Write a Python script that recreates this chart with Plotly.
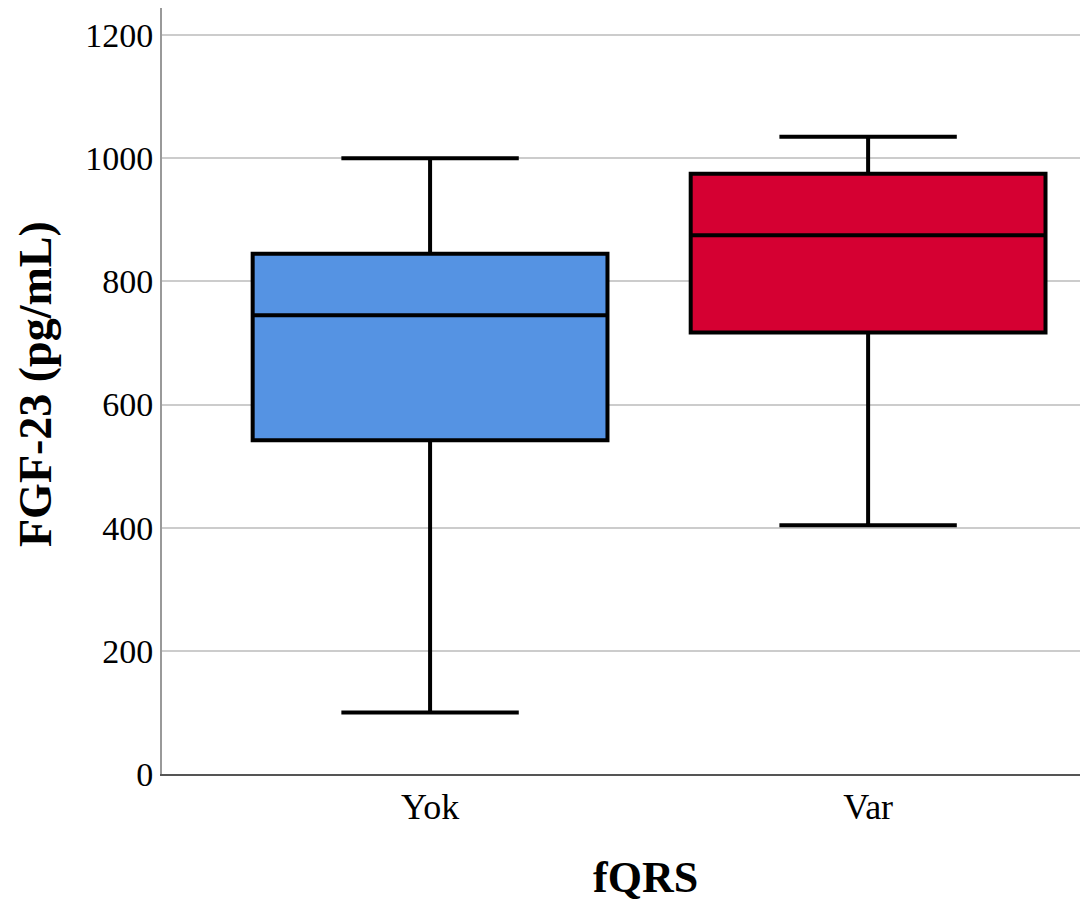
import plotly.graph_objects as go

categories = ["Yok", "Var"]
lower_whisker = [100, 404]
q1_values = [542, 717]
median_values = [745, 875]
q3_values = [845, 975]
upper_whisker = [1000, 1035]
box_colors = ["#5593E3", "#D50032"]

fig = go.Figure()
for i, cat in enumerate(categories):
    fig.add_trace(go.Box(
        x=[cat],
        lowerfence=[lower_whisker[i]],
        q1=[q1_values[i]],
        median=[median_values[i]],
        q3=[q3_values[i]],
        upperfence=[upper_whisker[i]],
        fillcolor=box_colors[i],
        line=dict(color="black", width=4),
        width=0.81,
        whiskerwidth=0.5,
        showlegend=False,
        hoverinfo="skip",
    ))

font_family = "Liberation Serif, Times New Roman, serif"
fig.update_layout(
    width=1080, height=905,
    margin=dict(l=154, r=0, t=0, b=139),
    paper_bgcolor="white", plot_bgcolor="white",
    boxmode="overlay",
    font=dict(family=font_family, color="black"),
    xaxis=dict(
        type="category",
        range=[-0.612, 1.502],
        showline=True, linecolor="#555555", linewidth=2,
        showgrid=False, ticks="",
        tickfont=dict(size=36, family=font_family, color="black"),
    ),
    yaxis=dict(
        range=[0, 1244],
        tickvals=[0, 200, 400, 600, 800, 1000, 1200],
        showline=True, linecolor="#999999", linewidth=2,
        showgrid=True, gridcolor="#CCCCCC", gridwidth=2,
        zeroline=False, ticks="", ticklen=0,
        tickfont=dict(size=34, family=font_family, color="black"),
    ),
    annotations=[
        dict(text="<b>FGF-23 (pg/mL)</b>", xref="paper", yref="paper",
             x=0, y=0.5, xshift=-127, yshift=7, xanchor="center", yanchor="middle",
             textangle=-90, showarrow=False, borderpad=0,
             font=dict(size=46, family=font_family, color="black")),
        dict(text="<b>fQRS</b>", xref="paper", yref="paper",
             x=0.5, y=0, xshift=20, yshift=-103, xanchor="center", yanchor="middle",
             showarrow=False,
             font=dict(size=44, family=font_family, color="black")),
    ],
)

fig.write_html("out.html")
